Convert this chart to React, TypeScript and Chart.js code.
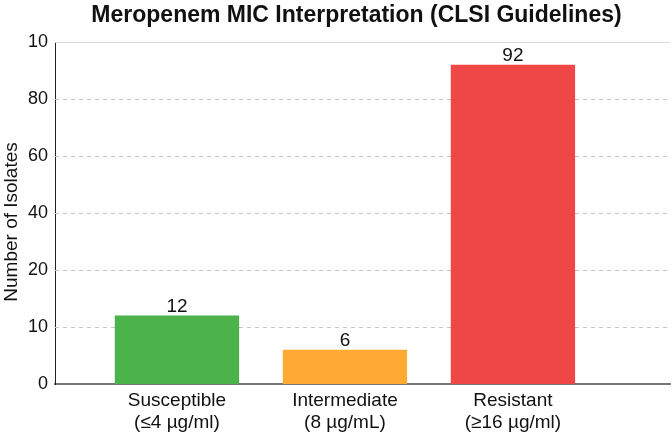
import React, { useEffect, useRef } from "react";
import { Chart, registerables, LinearScale } from "chart.js";

// Interpretation categories and isolate counts
const categories = [
  ["Susceptible", "(≤4 µg/ml)"],
  ["Intermediate", "(8 µg/mL)"],
  ["Resistant", "(≥16 µg/ml)"],
];
const isolateCounts = [12, 6, 92];
const barColors = ["#4cb24a", "#ffaa33", "#ef4746"];

// Y axis break points (equally spaced on screen) and their labels
const yKnots = [0, 10, 20, 40, 60, 80, 100];
const yTickLabels = ["0", "10", "20", "40", "60", "80", "10"];
const yAxisTitle = "Number of Isolates";
const chartTitle = "Meropenem MIC Interpretation (CLSI Guidelines)";

const FONT = "'Liberation Sans', Arial, Helvetica, sans-serif";

// Linear scale that maps each segment between break points to equal height
class PiecewiseScale extends LinearScale {
  static id = "piecewise";
  static defaults = LinearScale.defaults;

  determineDataLimits() {
    this.min = yKnots[0];
    this.max = yKnots[yKnots.length - 1];
  }

  buildTicks() {
    return yKnots.map((v) => ({ value: v }));
  }

  valueToFraction(v) {
    const n = yKnots.length - 1;
    if (v <= yKnots[0]) return 0;
    for (let i = 0; i < n; i++) {
      const a = yKnots[i];
      const b = yKnots[i + 1];
      if (v <= b) return (i + (v - a) / (b - a)) / n;
    }
    return 1;
  }

  getPixelForValue(v) {
    return this.getPixelForDecimal(this.valueToFraction(v));
  }

  getValueForPixel(p) {
    const f = this.getDecimalForPixel(p) * (yKnots.length - 1);
    const i = Math.max(0, Math.min(yKnots.length - 2, Math.floor(f)));
    return yKnots[i] + (f - i) * (yKnots[i + 1] - yKnots[i]);
  }
}

Chart.register(...registerables, PiecewiseScale);

// Dashed horizontal guides, value labels above bars, titles
const guidesAndLabels = {
  id: "guidesAndLabels",
  beforeDatasetsDraw(chart) {
    const { ctx, chartArea, scales } = chart;
    const y = scales.y;
    ctx.save();
    yKnots.forEach((v, i) => {
      if (i === 0) return;
      const last = i === yKnots.length - 1;
      const py = Math.round(y.getPixelForValue(v)) + 0.5;
      ctx.beginPath();
      ctx.strokeStyle = last ? "#d9d9d9" : "#c4c4c4";
      ctx.lineWidth = 1;
      ctx.setLineDash(last ? [] : [4, 4]);
      ctx.moveTo(chartArea.left, py);
      ctx.lineTo(chartArea.right, py);
      ctx.stroke();
    });
    ctx.restore();
  },
  afterDatasetsDraw(chart) {
    const { ctx, chartArea } = chart;
    const meta = chart.getDatasetMeta(0);
    ctx.save();
    ctx.font = `19px ${FONT}`;
    ctx.fillStyle = "#111";
    ctx.textAlign = "center";
    ctx.textBaseline = "alphabetic";
    meta.data.forEach((bar, i) => {
      ctx.fillText(String(isolateCounts[i]), bar.x, bar.y - 4);
    });

    // chart title, centred over the plot area
    ctx.font = `bold 23px ${FONT}`;
    ctx.fillText(chartTitle, (chartArea.left + chartArea.right) / 2 - 6, 22);

    // y axis title, rotated
    ctx.font = `19px ${FONT}`;
    ctx.translate(12, (chartArea.top + chartArea.bottom) / 2 + 9);
    ctx.rotate(-Math.PI / 2);
    ctx.textBaseline = "middle";
    ctx.fillText(yAxisTitle, 0, 0);
    ctx.restore();
  },
};

export default function App() {
  const canvasRef = useRef(null);

  useEffect(() => {
    const chart = new Chart(canvasRef.current, {
      type: "bar",
      data: {
        datasets: [
          {
            data: isolateCounts.map((v, i) => ({ x: i, y: v })),
            backgroundColor: barColors,
            borderWidth: 0,
            barPercentage: 0.74,
            categoryPercentage: 1,
          },
        ],
      },
      options: {
        animation: false,
        responsive: false,
        layout: { padding: { left: 0, right: 2, top: 42, bottom: 0 } },
        plugins: {
          legend: { display: false },
          tooltip: { enabled: false },
          title: { display: false },
        },
        scales: {
          x: {
            type: "linear",
            offset: false,
            min: -0.726,
            max: 2.935,
            grid: { display: false, offset: false, drawTicks: false },
            border: { display: true, color: "#777", width: 2 },
            afterBuildTicks: (scale) => {
              scale.ticks = categories.map((_, i) => ({ value: i }));
            },
            afterFit: (scale) => {
              scale.height = 53;
            },
            ticks: {
              padding: 6,
              color: "#111",
              maxRotation: 0,
              autoSkip: false,
              font: { family: FONT, size: 19, lineHeight: 1.16 },
              callback: (value) => categories[value] || "",
            },
          },
          y: {
            type: "piecewise",
            grid: { display: false, drawTicks: false },
            border: { display: true, color: "#222", width: 1 },
            afterFit: (scale) => {
              scale.width = 55;
            },
            ticks: {
              padding: 7,
              color: "#111",
              font: { family: FONT, size: 18 },
              callback: (value, index) => yTickLabels[index],
            },
          },
        },
      },
      plugins: [guidesAndLabels],
    });
    return () => chart.destroy();
  }, []);

  return (
    <div style={{ position: "fixed", left: 0, top: 0, width: 672, height: 437, background: "#fff" }}>
      <canvas ref={canvasRef} width={672} height={437} style={{ display: "block" }} />
    </div>
  );
}
